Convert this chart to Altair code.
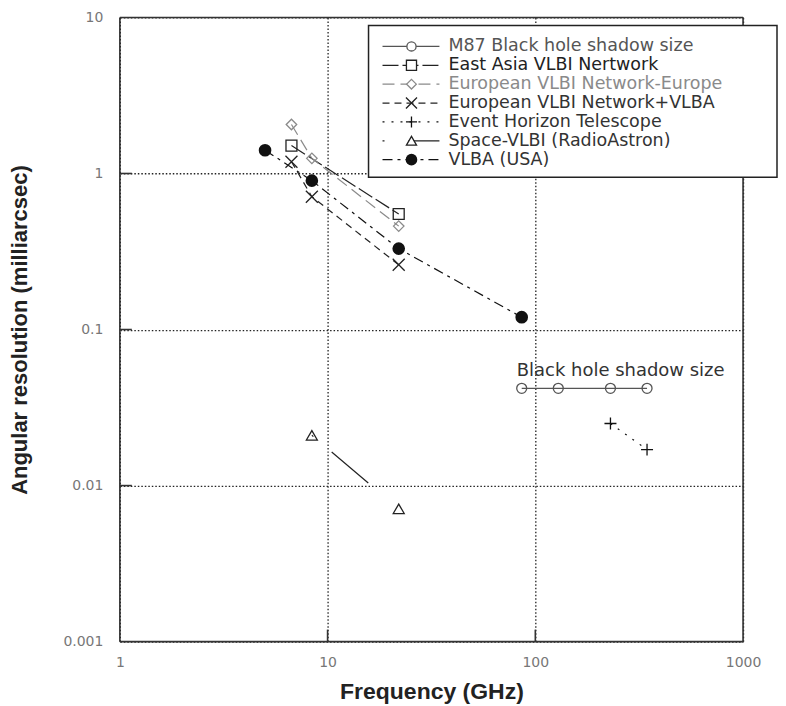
import altair as alt
import pandas as pd

# ---------------- data ----------------
series = [
    "M87 Black hole shadow size",
    "East Asia VLBI Nertwork",
    "European VLBI Network-Europe",
    "European VLBI Network+VLBA",
    "Event Horizon Telescope",
    "Space-VLBI (RadioAstron)",
    "VLBA (USA)",
]
freq_m87 = [86, 129, 230, 345]
res_m87 = [0.042, 0.042, 0.042, 0.042]
freq_eavn = [6.7, 22]
res_eavn = [1.51, 0.55]
freq_evn_eu = [6.7, 8.4, 22]
res_evn_eu = [2.06, 1.25, 0.46]
freq_evn_vlba = [6.7, 8.4, 22]
res_evn_vlba = [1.19, 0.71, 0.26]
freq_eht = [230, 345]
res_eht = [0.025, 0.017]
freq_space = [8.4, 22]
res_space = [0.021, 0.0071]
freq_vlba = [5, 8.4, 22, 86]
res_vlba = [1.41, 0.90, 0.33, 0.12]

x_ticks = [1, 10, 100, 1000]
y_ticks = [0.001, 0.01, 0.1, 1, 10]
x_inner_ticks = [10, 100]
y_inner_ticks = [0.01, 0.1, 1]
annotation_text = ["Black hole shadow size"]

freqs = [freq_m87, freq_eavn, freq_evn_eu, freq_evn_vlba, freq_eht, freq_space, freq_vlba]
ress = [res_m87, res_eavn, res_evn_eu, res_evn_vlba, res_eht, res_space, res_vlba]

# ---------------- styles ----------------
X_PATH = "M-1,-1L1,1M-1,1L1,-1"
PLUS_PATH = "M-1,0L1,0M0,-1L0,1"
styles = [
    dict(shape="circle", size=100, filled=False, color="#555555", text="#555555", dash=[1, 0]),
    dict(shape="square", size=120, filled=False, color="#222222", text="#222222", dash=[16, 4]),
    dict(shape="diamond", size=110, filled=False, color="#8a8a8a", text="#8a8a8a", dash=[12, 6]),
    dict(shape=X_PATH, size=144, filled=False, color="#222222", text="#333333", dash=[7, 5]),
    dict(shape=PLUS_PATH, size=144, filled=False, color="#111111", text="#333333", dash=[2, 7]),
    dict(shape="triangle-up", size=120, filled=False, color="#222222", text="#333333", dash=[2, 24, 48, 60]),
    dict(shape="circle", size=160, filled=True, color="#111111", text="#333333", dash=[10, 5, 3, 5]),
]

W, H = 624, 625

xs = alt.Scale(type="log", domain=[1, 1000], nice=False)
ys = alt.Scale(type="log", domain=[0.001, 10], nice=False)

x_axis = alt.Axis(
    values=x_ticks, format="~g", grid=True, gridDash=[1.5, 2], gridColor="#222222",
    gridWidth=1.3, ticks=False, domain=False, labelFont="DejaVu Sans", labelFontSize=14,
    labelColor="#777777", labelPadding=14, labelFlush=False, labelOverlap=False,
    title="Frequency (GHz)", titleFont="Liberation Sans", titleFontSize=23,
    titleFontWeight="bold", titleColor="#222222", titlePadding=11,
)
y_axis = alt.Axis(
    values=y_ticks, format="~g", grid=True, gridDash=[1.5, 2], gridColor="#222222",
    gridWidth=1.3, ticks=False, domain=False, labelFont="DejaVu Sans", labelFontSize=14,
    labelColor="#777777", labelPadding=17, labelFlush=False, labelOverlap=False,
    title="Angular resolution (milliarcsec)", titleFont="Liberation Sans", titleFontSize=22,
    titleFontWeight="bold", titleColor="#222222", titlePadding=31,
)
X = alt.X("f:Q", scale=xs, axis=x_axis)
Y = alt.Y("r:Q", scale=ys, axis=y_axis)

one = pd.DataFrame({"a": [0]})
layers = []

# inward ticks
layers.append(
    alt.Chart(pd.DataFrame({"f": x_inner_ticks})).mark_rule(color="#333333", strokeWidth=1.6)
    .encode(x=X, y=alt.value(H), y2=alt.value(H - 12))
)
layers.append(
    alt.Chart(pd.DataFrame({"r": y_inner_ticks})).mark_rule(color="#333333", strokeWidth=1.6)
    .encode(y=Y, x=alt.value(0), x2=alt.value(12))
)

# frame
frame_col = "#333333"
layers.append(alt.Chart(one).mark_rule(color=frame_col, strokeWidth=1.6).encode(x=alt.value(0), y=alt.value(0), y2=alt.value(H)))
layers.append(alt.Chart(one).mark_rule(color=frame_col, strokeWidth=1.6).encode(x=alt.value(W), y=alt.value(0), y2=alt.value(H)))
layers.append(alt.Chart(one).mark_rule(color=frame_col, strokeWidth=1.6).encode(y=alt.value(0), x=alt.value(0), x2=alt.value(W)))
layers.append(alt.Chart(one).mark_rule(color=frame_col, strokeWidth=1.6).encode(y=alt.value(H), x=alt.value(0), x2=alt.value(W)))

# data lines and points
for name, fr, rs, st in zip(series, freqs, ress, styles):
    df = pd.DataFrame({"f": fr, "r": rs, "s": name})
    layers.append(
        alt.Chart(df).mark_line(color=st["color"], strokeWidth=1.2, strokeDash=st["dash"])
        .encode(x=X, y=Y)
    )
for name, fr, rs, st in zip(series, freqs, ress, styles):
    df = pd.DataFrame({"f": fr, "r": rs, "s": name})
    pt_kwargs = dict(shape=st["shape"], size=st["size"], strokeWidth=1.3, opacity=1)
    if st["filled"]:
        mk = alt.Chart(df).mark_point(filled=True, color=st["color"], **pt_kwargs)
    else:
        mk = alt.Chart(df).mark_point(filled=False, color=st["color"], **pt_kwargs)
    layers.append(mk.encode(x=X, y=Y))

# annotation
ann = pd.DataFrame({"f": [freq_m87[0]], "r": [res_m87[0]], "t": annotation_text})
layers.append(
    alt.Chart(ann).mark_text(align="left", baseline="middle", dx=-5, dy=-17,
                             font="DejaVu Sans", fontSize=18, color="#333333")
    .encode(x=X, y=Y, text="t:N")
)

# custom legend
LX0, LX1, LY0, LY1 = 249, 658, 8, 160
layers.append(
    alt.Chart(one).mark_rect(fill="white", stroke="#222222", strokeWidth=1.5)
    .encode(x=alt.value(LX0), x2=alt.value(LX1), y=alt.value(LY0), y2=alt.value(LY1))
)
row0, step = 29, 18.9
for i, (name, st) in enumerate(zip(series, styles)):
    yy = row0 + i * step
    layers.append(
        alt.Chart(one).mark_rule(color=st["color"], strokeWidth=1.2, strokeDash=st["dash"])
        .encode(x=alt.value(263), x2=alt.value(320), y=alt.value(yy))
    )
    pk = dict(shape=st["shape"], size=st["size"] * 0.85, strokeWidth=1.3, opacity=1,
              filled=st["filled"], color=st["color"])
    if not st["filled"]:
        pk["fill"] = "white"
    layers.append(alt.Chart(one).mark_point(**pk).encode(x=alt.value(292), y=alt.value(yy)))
    layers.append(
        alt.Chart(one).mark_text(align="left", baseline="middle", font="DejaVu Sans",
                                 fontSize=17.5, color=st["text"])
        .encode(x=alt.value(329), y=alt.value(yy), text=alt.value(name))
    )

chart = (
    alt.layer(*layers)
    .properties(width=W, height=H, padding={"left": 0, "top": 2, "right": 0, "bottom": 0})
    .configure_view(stroke=None)
    .configure(background="white")
)

chart.save("out.html", embed_options={"renderer": "svg", "actions": False})
